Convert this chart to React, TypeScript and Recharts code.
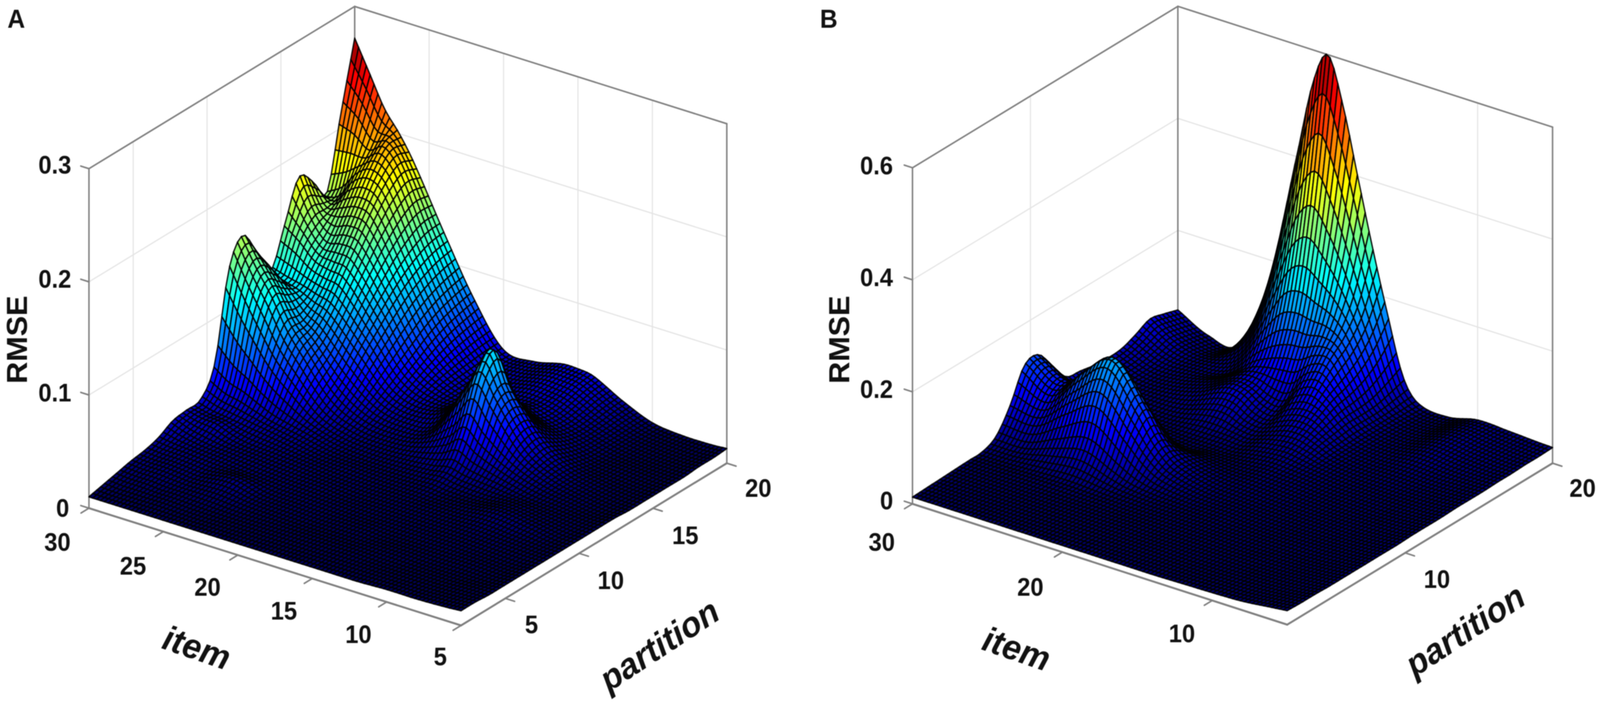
import React from "react";
import { ScatterChart, Scatter, XAxis, YAxis } from "recharts";

// ---- values: RMSE per item row, one value per partition column (1..20)
const partitions = [1,2,3,4,5,6,7,8,9,10,11,12,13,14,15,16,17,18,19,20];

const itemsA = [30,29,28,27,26,24,22,20,18,16,15,14,12,10,8,6,5];
const a30 = [.010,.013,.016,.019,.021,.025,.032,.034,.036,.060,.135,.158,.135,.112,.145,.179,.168,.150,.212,.272];
const a29 = [.010,.012,.015,.018,.020,.023,.027,.031,.032,.050,.110,.135,.125,.108,.135,.150,.150,.158,.205,.245];
const a28 = [.010,.012,.015,.018,.020,.022,.024,.030,.030,.045,.088,.115,.108,.105,.122,.135,.155,.175,.192,.218];
const a27 = [.010,.012,.014,.017,.019,.021,.022,.025,.028,.038,.068,.090,.090,.100,.118,.138,.160,.182,.198,.200];
const a26 = [.010,.012,.014,.016,.018,.020,.021,.022,.026,.032,.054,.072,.080,.095,.115,.135,.155,.172,.182,.178];
const a24 = [.010,.011,.013,.017,.021,.018,.019,.020,.022,.025,.030,.039,.051,.067,.082,.096,.108,.117,.123,.125];
const a22 = [.010,.011,.012,.014,.015,.016,.017,.018,.018,.019,.021,.025,.031,.038,.046,.054,.062,.068,.072,.075];
const a20 = [.010,.011,.012,.013,.014,.015,.016,.016,.017,.017,.019,.022,.026,.030,.033,.035,.036,.037,.038,.038];
const a18 = [.010,.011,.012,.012,.013,.014,.014,.015,.016,.017,.020,.026,.032,.040,.036,.030,.031,.033,.035,.036];
const a16 = [.010,.011,.012,.012,.013,.013,.014,.015,.016,.018,.024,.042,.072,.080,.060,.036,.034,.037,.040,.042];
const a15 = [.010,.011,.012,.012,.013,.013,.014,.015,.016,.019,.028,.055,.092,.105,.060,.040,.034,.036,.040,.042];
const a14 = [.010,.011,.012,.012,.012,.013,.014,.015,.015,.017,.024,.043,.072,.075,.050,.034,.031,.034,.038,.040];
const a12 = [.010,.011,.011,.012,.012,.013,.014,.015,.016,.016,.020,.027,.035,.038,.030,.024,.022,.023,.025,.026];
const a10 = [.011,.011,.011,.011,.012,.013,.014,.016,.019,.018,.016,.018,.020,.020,.017,.015,.015,.015,.015,.015];
const a8 = [.011,.011,.011,.011,.012,.012,.013,.014,.016,.015,.014,.014,.014,.014,.013,.013,.012,.012,.012,.012];
const a6 = [.012,.012,.012,.011,.011,.011,.012,.012,.012,.012,.012,.011,.011,.011,.011,.011,.011,.011,.011,.012];
const a5 = [.013,.013,.012,.012,.012,.012,.012,.012,.012,.012,.012,.012,.011,.011,.011,.011,.011,.012,.012,.013];

const itemsB = [30,28,26,24,22,21,20,19,18,17,16,15,14,12,10,8,6,5];
const b30 = [.012,.013,.014,.015,.016,.017,.030,.070,.125,.130,.095,.060,.055,.050,.048,.050,.060,.072,.066,.058];
const b28 = [.012,.013,.014,.015,.016,.018,.030,.065,.095,.100,.060,.032,.028,.028,.028,.030,.035,.040,.036,.030];
const b26 = [.012,.013,.014,.015,.017,.022,.050,.110,.150,.115,.045,.025,.022,.024,.028,.032,.034,.034,.032,.030];
const b24 = [.012,.013,.014,.015,.017,.025,.065,.145,.190,.130,.040,.022,.020,.028,.040,.045,.042,.060,.100,.155];
const b22 = [.012,.013,.014,.015,.016,.020,.040,.090,.120,.080,.028,.018,.025,.045,.065,.070,.085,.150,.260,.410];
const b21 = [.012,.013,.014,.015,.016,.018,.028,.058,.075,.050,.022,.018,.025,.045,.062,.070,.100,.190,.340,.540];
const b20 = [.012,.013,.014,.015,.015,.017,.022,.036,.045,.038,.024,.018,.024,.033,.045,.060,.110,.200,.370,.600];
const b19 = [.012,.013,.014,.015,.015,.016,.019,.027,.032,.029,.022,.018,.022,.030,.040,.060,.115,.190,.330,.520];
const b18 = [.012,.013,.014,.015,.015,.016,.018,.022,.025,.024,.021,.022,.030,.040,.060,.090,.130,.180,.270,.400];
const b17 = [.012,.013,.014,.014,.015,.016,.017,.019,.021,.022,.022,.026,.035,.050,.070,.100,.130,.155,.200,.280];
const b16 = [.012,.013,.014,.014,.015,.016,.017,.018,.020,.022,.024,.028,.037,.050,.065,.080,.090,.105,.130,.170];
const b15 = [.012,.013,.014,.014,.015,.016,.017,.018,.019,.021,.023,.026,.032,.040,.045,.050,.050,.052,.060,.070];
const b14 = [.012,.013,.013,.014,.015,.015,.016,.017,.018,.020,.022,.024,.026,.028,.029,.030,.030,.030,.030,.030];
const b12 = [.013,.013,.013,.014,.014,.015,.015,.016,.017,.018,.019,.020,.021,.022,.023,.024,.024,.024,.023,.022];
const b10 = [.014,.014,.014,.014,.015,.015,.016,.016,.017,.017,.018,.019,.020,.022,.025,.030,.034,.036,.036,.034];
const b8 = [.016,.016,.016,.016,.016,.016,.017,.017,.017,.018,.018,.019,.020,.021,.023,.026,.029,.031,.032,.032];
const b6 = [.022,.021,.020,.020,.020,.020,.020,.020,.020,.020,.021,.021,.022,.023,.024,.025,.026,.027,.028,.029];
const b5 = [.025,.024,.024,.023,.023,.023,.023,.023,.023,.024,.024,.024,.025,.025,.025,.026,.026,.027,.027,.028];

const rowsA = [a30,a29,a28,a27,a26,a24,a22,a20,a18,a16,a15,a14,a12,a10,a8,a6,a5];
const rowsB = [b30,b28,b26,b24,b22,b21,b20,b19,b18,b17,b16,b15,b14,b12,b10,b8,b6,b5];

const itemTicksA = [30,25,20,15,10,5];
const partitionTicksA = [5,10,15,20];
const rmseTicksA = [0,0.1,0.2,0.3];
const itemTicksB = [30,20,10];
const partitionTicksB = [10,20];
const rmseTicksB = [0,0.2,0.4,0.6];

const FONT = "'Liberation Sans', Arial, sans-serif";
const NU = 96, NV = 68;

const clamp01 = (t: number) => Math.max(0, Math.min(1, t));
const jet = (t: number) => {
  const c = (o: number) => Math.round(255 * clamp01(1.5 - Math.abs(4 * t - o)));
  return `rgb(${c(3)},${c(2)},${c(1)})`;
};

function spline(ts: number[], vs: number[], t: number) {
  const n = ts.length;
  let i = 0;
  while (i < n - 2 && t > ts[i + 1]) i++;
  const slope = (k: number) => {
    const a = Math.max(0, k - 1), b = Math.min(n - 1, k + 1);
    return (vs[b] - vs[a]) / (ts[b] - ts[a]);
  };
  const h = ts[i + 1] - ts[i];
  const s = (t - ts[i]) / h;
  const s2 = s * s, s3 = s2 * s;
  return (2 * s3 - 3 * s2 + 1) * vs[i] + (s3 - 2 * s2 + s) * h * slope(i) +
    (-2 * s3 + 3 * s2) * vs[i + 1] + (s3 - s2) * h * slope(i + 1);
}

type Geo = { F: number[]; L: number[]; R: number[]; up: number };
const project = (g: Geo, u: number, v: number, z: number) => [
  g.F[0] + u * (g.L[0] - g.F[0]) + v * (g.R[0] - g.F[0]),
  g.F[1] + u * (g.L[1] - g.F[1]) + v * (g.R[1] - g.F[1]) - g.up * z,
];

function buildCells(g: Geo, items: number[], rows: number[][], zMin: number, zMax: number) {
  const us = items.map((it) => (it - 5) / 25).reverse();
  const colT = partitions.map((p) => (p - 1) / 19);
  const revRows = [...rows].reverse();
  const fine: number[][] = revRows.map((r) =>
    Array.from({ length: NV + 1 }, (_, k) => spline(colT, r, k / NV)));
  const grid: number[][] = [];
  for (let a = 0; a <= NU; a++) {
    const row: number[] = [];
    for (let k = 0; k <= NV; k++) {
      row.push(Math.max(0.005, spline(us, fine.map((f) => f[k]), a / NU)));
    }
    grid.push(row);
  }
  const cells: any[] = [];
  for (let a = NU - 1; a >= 0; a--) {
    for (let k = NV - 1; k >= 0; k--) {
      const c = [[a, k], [a + 1, k], [a + 1, k + 1], [a, k + 1]].map(([i, j]) =>
        project(g, i / NU, j / NV, grid[i][j]));
      const mean = (grid[a][k] + grid[a + 1][k] + grid[a + 1][k + 1] + grid[a][k + 1]) / 4;
      cells.push({
        x: c[0][0], y: c[0][1],
        rel: c.map((p) => [p[0] - c[0][0], p[1] - c[0][1]]),
        fill: jet((mean - zMin) / (zMax - zMin)),
      });
    }
  }
  return cells;
}

const CellShape = (p: any) => {
  const { cx, cy, payload } = p;
  const pts = payload.rel.map((r: number[]) => `${(cx + r[0]).toFixed(1)},${(cy + r[1]).toFixed(1)}`).join(" ");
  return <polygon points={pts} fill={payload.fill} stroke="rgba(0,0,0,0.92)" strokeWidth={3.6} strokeLinejoin="round" />;
};
const SegShape = (p: any) => {
  const { cx, cy, payload: s } = p;
  return <line x1={cx} y1={cy} x2={cx + s.x2 - s.x} y2={cy + s.y2 - s.y} stroke={s.stroke} strokeWidth={s.w} strokeLinecap="round" />;
};
const TextShape = (p: any) => {
  const { cx, cy, payload: s } = p;
  return (
    <text x={cx} y={cy} textAnchor="middle" dominantBaseline="central" fontFamily={FONT}
      fontSize={s.size} fontWeight={s.weight} fontStyle={s.italic ? "italic" : "normal"} fill="#111"
      transform={s.rot ? `rotate(${s.rot} ${cx} ${cy})` : undefined}>{s.text}</text>
  );
};

const seg = (a: number[], b: number[], stroke: string, w: number) => ({ x: a[0], y: a[1], x2: b[0], y2: b[1], stroke, w });
const GRID = "#e4e4e4", AXIS = "#7f7f7f";
const partV = (p: number) => (p - 2) / 18;
const itemU = (i: number) => (i - 5) / 25;

function buildGrid(g: Geo, top: number, iTicks: number[], pTicks: number[], zTicks: number[]) {
  const s: any[] = [];
  pTicks.filter((p) => p < 20).forEach((p) => s.push(seg(project(g, 1, partV(p), 0), project(g, 1, partV(p), top), GRID, 3)));
  iTicks.filter((i) => i > 5 && i < 30).forEach((i) => s.push(seg(project(g, itemU(i), 1, 0), project(g, itemU(i), 1, top), GRID, 3)));
  zTicks.filter((z) => z > 0 && z < top).forEach((z) => {
    s.push(seg(project(g, 1, 0, z), project(g, 1, 1, z), GRID, 3));
    s.push(seg(project(g, 1, 1, z), project(g, 0, 1, z), GRID, 3));
  });
  return s;
}
function buildFrameBack(g: Geo, top: number) {
  return [
    seg(project(g, 1, 1, 0), project(g, 1, 1, top), AXIS, 4),
    seg(project(g, 1, 0, 0), project(g, 1, 0, top), AXIS, 4),
    seg(project(g, 0, 1, 0), project(g, 0, 1, top), AXIS, 4),
    seg(project(g, 1, 0, top), project(g, 1, 1, top), AXIS, 4),
    seg(project(g, 1, 1, top), project(g, 0, 1, top), AXIS, 4),
  ];
}
function buildFrameFront(g: Geo, top: number, iTicks: number[], pTicks: number[], zTicks: number[]) {
  const s: any[] = [
    seg(project(g, 1, 0, 0), project(g, 0, 0, 0), AXIS, 5),
    seg(project(g, 0, 0, 0), project(g, 0, 1, 0), AXIS, 5),
  ];
  iTicks.forEach((i) => s.push(seg(project(g, itemU(i), 0, 0), project(g, itemU(i), -0.03, 0), AXIS, 4)));
  pTicks.forEach((p) => s.push(seg(project(g, 0, partV(p), 0), project(g, -0.025, partV(p), 0), AXIS, 4)));
  zTicks.forEach((z) => s.push(seg(project(g, 1, 0, z), project(g, 1.022, 0, z), AXIS, 4)));
  return s;
}

const t = (text: string, x: number, y: number, size: number, weight = 700, italic = false, rot = 0) =>
  ({ text, x, y, size, weight, italic, rot });

const geoA: Geo = { F: [1244, 1600], L: [240, 1300], R: [1961, 1185], up: 2895 };
const geoB: Geo = { F: [1323, 1598], L: [312, 1289], R: [2039, 1185], up: 1433 };

const labelsA = [
  t("A", 44, 48, 66),
  t("RMSE", 46, 869, 78, 700, false, -90),
  t("0.3", 148, 422, 64), t("0.2", 148, 714, 64), t("0.1", 148, 1005, 64), t("0", 169, 1300, 64),
  t("30", 155, 1387, 64), t("25", 359, 1448, 64), t("20", 560, 1502, 64), t("15", 766, 1563, 64), t("10", 967, 1623, 64), t("5", 1188, 1680, 64),
  t("5", 1434, 1598, 64), t("10", 1648, 1485, 64), t("15", 1849, 1370, 64), t("20", 2046, 1249, 64),
  t("item", 531, 1657, 90, 700, true, 18),
  t("partition", 1779, 1650, 90, 700, true, -32),
];
const labelsB = [
  t("B", 86, 48, 66),
  t("RMSE", 114, 869, 78, 700, false, -90),
  t("0.6", 215, 424, 64), t("0.4", 215, 710, 64), t("0.2", 215, 996, 64), t("0", 242, 1281, 64),
  t("30", 229, 1387, 64), t("20", 630, 1502, 64), t("10", 1039, 1621, 64),
  t("10", 1727, 1482, 64), t("20", 2120, 1249, 64),
  t("item", 593, 1660, 90, 700, true, 18),
  t("partition", 1803, 1612, 90, 700, true, -32),
];

const cellsA = buildCells(geoA, itemsA, rowsA, 0.017, 0.272);
const cellsB = buildCells(geoB, itemsB, rowsB, 0.02, 0.6);

function Panel({ left, width, geo, top, cells, iT, pT, zT, labels }: any) {
  const gridSegs = buildGrid(geo, top, iT, pT, zT);
  const back = buildFrameBack(geo, top);
  const front = buildFrameFront(geo, top, iT, pT, zT);
  return (
    <div style={{ position: "absolute", left, top: 0, width, height: 1801 }}>
      <ScatterChart width={width} height={1801} margin={{ top: 0, right: 0, bottom: 0, left: 0 }}>
        <XAxis type="number" dataKey="x" domain={[0, width]} hide allowDataOverflow />
        <YAxis type="number" dataKey="y" domain={[0, 1801]} reversed hide allowDataOverflow />
        <Scatter data={gridSegs} shape={SegShape} isAnimationActive={false} />
        <Scatter data={back} shape={SegShape} isAnimationActive={false} />
        <Scatter data={front} shape={SegShape} isAnimationActive={false} />
        <Scatter data={cells} shape={CellShape} isAnimationActive={false} />
        <Scatter data={labels} shape={TextShape} isAnimationActive={false} />
      </ScatterChart>
    </div>
  );
}

export default function App() {
  // the browser may open narrower than the picture asked for: keep the whole figure in view
  const sx = Math.min(1, window.innerWidth / 4317);
  return (
    <div style={{ position: "absolute", left: 0, top: 0, width: 4317, height: 1801, background: "#fff", overflow: "hidden", filter: "blur(1.3px)", transform: `scaleX(${sx})`, transformOrigin: "0 0" }}>
      <Panel left={0} width={2150} geo={geoA} top={0.3} cells={cellsA} iT={itemTicksA} pT={partitionTicksA} zT={rmseTicksA} labels={labelsA} />
      <Panel left={2150} width={2167} geo={geoB} top={0.6} cells={cellsB} iT={itemTicksB} pT={partitionTicksB} zT={rmseTicksB} labels={labelsB} />
    </div>
  );
}
